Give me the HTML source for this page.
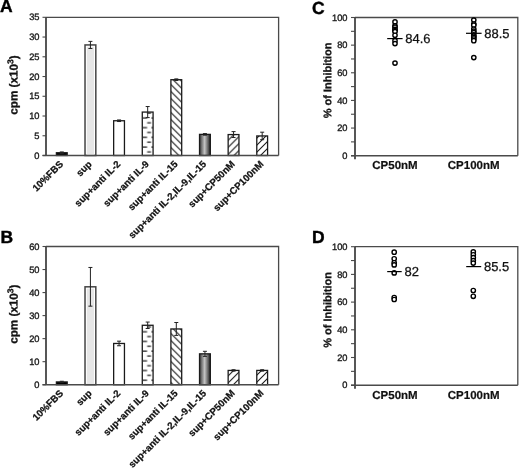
<!DOCTYPE html>
<html><head><meta charset="utf-8"><style>
html,body{margin:0;padding:0;background:#fff;width:520px;height:469px;overflow:hidden;}
svg{display:block;will-change:transform;}
</style></head><body>
<svg width="520" height="469" viewBox="0 0 520 469">
<defs>
<pattern id="dashA" patternUnits="userSpaceOnUse" width="8.7" height="9.7" x="142.7" y="125.6"><path d="M-0.3 2H4.4M4.5 6.85H8.3" stroke="#1a1a1a" stroke-width="1.2"/></pattern>
<pattern id="dashB" patternUnits="userSpaceOnUse" width="8.7" height="9.7" x="142.7" y="329.7"><path d="M-0.3 2H4.4M4.5 6.85H8.3" stroke="#1a1a1a" stroke-width="1.2"/></pattern>
<pattern id="bsA" patternUnits="userSpaceOnUse" width="7.0" height="7.0" x="0" y="4.6"><path d="M-1 -1L8.0 8.0M-8.0 -1L1 8.0M6.0 -1L15.0 8.0" stroke="#1a1a1a" stroke-width="1.1"/></pattern>
<pattern id="bsB" patternUnits="userSpaceOnUse" width="7.0" height="7.0" x="0" y="1.6"><path d="M-1 -1L8.0 8.0M-8.0 -1L1 8.0M6.0 -1L15.0 8.0" stroke="#1a1a1a" stroke-width="1.1"/></pattern>
<pattern id="fsA6" patternUnits="userSpaceOnUse" width="7.0" height="7.0" x="4.5" y="0"><path d="M-1 8.0L8.0 -1M-8.0 8.0L1 -1M6.0 8.0L15.0 -1" stroke="#1a1a1a" stroke-width="1.1"/></pattern>
<pattern id="fsA7" patternUnits="userSpaceOnUse" width="7.0" height="7.0" x="3.0" y="0"><path d="M-1 8.0L8.0 -1M-8.0 8.0L1 -1M6.0 8.0L15.0 -1" stroke="#1a1a1a" stroke-width="1.1"/></pattern>
<pattern id="fsB6" patternUnits="userSpaceOnUse" width="7.0" height="7.0" x="2.1" y="0"><path d="M-1 8.0L8.0 -1M-8.0 8.0L1 -1M6.0 8.0L15.0 -1" stroke="#1a1a1a" stroke-width="1.1"/></pattern>
<pattern id="fsB7" patternUnits="userSpaceOnUse" width="7.0" height="7.0" x="2.0" y="0"><path d="M-1 8.0L8.0 -1M-8.0 8.0L1 -1M6.0 8.0L15.0 -1" stroke="#1a1a1a" stroke-width="1.1"/></pattern>
<linearGradient id="cyl" x1="0" x2="1" y1="0" y2="0">
<stop offset="0" stop-color="#3a3a3a"/>
<stop offset="0.47" stop-color="#c4c4c4"/>
<stop offset="1" stop-color="#222"/>
</linearGradient>
</defs>
<rect width="520" height="469" fill="#fff"/>
<style>
text{font-family:"Liberation Sans",sans-serif;}
.tk{font-size:9.3px;fill:#1a1a1a;stroke:#1a1a1a;stroke-width:0.35px;}
.cat{font-size:9.7px;font-weight:bold;fill:#111;stroke:#111;stroke-width:0.25px;}
.pl{font-size:17.5px;font-weight:bold;fill:#000;stroke:#000;stroke-width:0.4px;}
.yt{font-size:11px;font-weight:bold;fill:#111;stroke:#111;stroke-width:0.3px;}
.ml{font-size:13px;fill:#111;stroke:#111;stroke-width:0.25px;}
.xl{font-size:11.5px;font-weight:bold;fill:#111;stroke:#111;stroke-width:0.2px;}
</style>
<path d="M46.0 17.3H278.6V155.5" fill="none" stroke="#4a4a4a" stroke-width="1.3"/>
<path d="M42.5 155.50H46.0" stroke="#4a4a4a" stroke-width="1.1"/>
<text class="tk" text-anchor="end" transform="translate(39.50 158.60) skewX(0.05)">0</text>
<path d="M42.5 135.76H46.0" stroke="#4a4a4a" stroke-width="1.1"/>
<text class="tk" text-anchor="end" transform="translate(39.50 138.86) skewX(0.05)">5</text>
<path d="M42.5 116.01H46.0" stroke="#4a4a4a" stroke-width="1.1"/>
<text class="tk" text-anchor="end" transform="translate(39.50 119.11) skewX(0.05)">10</text>
<path d="M42.5 96.27H46.0" stroke="#4a4a4a" stroke-width="1.1"/>
<text class="tk" text-anchor="end" transform="translate(39.50 99.37) skewX(0.05)">15</text>
<path d="M42.5 76.53H46.0" stroke="#4a4a4a" stroke-width="1.1"/>
<text class="tk" text-anchor="end" transform="translate(39.50 79.63) skewX(0.05)">20</text>
<path d="M42.5 56.79H46.0" stroke="#4a4a4a" stroke-width="1.1"/>
<text class="tk" text-anchor="end" transform="translate(39.50 59.89) skewX(0.05)">25</text>
<path d="M42.5 37.04H46.0" stroke="#4a4a4a" stroke-width="1.1"/>
<text class="tk" text-anchor="end" transform="translate(39.50 40.14) skewX(0.05)">30</text>
<path d="M42.5 17.30H46.0" stroke="#4a4a4a" stroke-width="1.1"/>
<text class="tk" text-anchor="end" transform="translate(39.50 20.40) skewX(0.05)">35</text>
<rect x="56.40" y="152.74" width="10.8" height="2.76" fill="#000" stroke="#1a1a1a" stroke-width="1.3"/>
<path d="M61.80 151.95V153.53M59.80 151.95H63.80M59.80 153.53H63.80" stroke="#222" stroke-width="1"/>
<rect x="85.02" y="44.94" width="10.8" height="110.56" fill="#fff" stroke="#444" stroke-width="1.5"/>
<rect x="86.82" y="46.74" width="7.20" height="108.76" fill="#e6e6e6"/>
<path d="M90.42 41.39V48.49M88.42 41.39H92.42M88.42 48.49H92.42" stroke="#222" stroke-width="1"/>
<rect x="113.65" y="120.75" width="10.8" height="34.75" fill="#fff" stroke="#1a1a1a" stroke-width="1.3"/>
<path d="M119.05 119.96V121.54M117.05 119.96H121.05M117.05 121.54H121.05" stroke="#222" stroke-width="1"/>
<rect x="142.28" y="112.07" width="10.8" height="43.43" fill="url(#dashA)" stroke="#1a1a1a" stroke-width="1.3"/>
<path d="M147.68 106.54V117.59M145.68 106.54H149.68M145.68 117.59H149.68" stroke="#222" stroke-width="1"/>
<rect x="170.90" y="79.69" width="10.8" height="75.81" fill="url(#bsA)" stroke="#1a1a1a" stroke-width="1.3"/>
<path d="M176.30 78.90V80.48M174.30 78.90H178.30M174.30 80.48H178.30" stroke="#222" stroke-width="1"/>
<rect x="199.53" y="134.38" width="10.8" height="21.12" fill="url(#cyl)" stroke="#1a1a1a" stroke-width="1.3"/>
<path d="M204.93 133.59V135.16M202.93 133.59H206.93M202.93 135.16H206.93" stroke="#222" stroke-width="1"/>
<rect x="228.15" y="134.57" width="10.8" height="20.93" fill="url(#fsA6)" stroke="#1a1a1a" stroke-width="1.3"/>
<path d="M233.55 131.61V137.53M231.55 131.61H235.55M231.55 137.53H235.55" stroke="#222" stroke-width="1"/>
<rect x="256.78" y="135.95" width="10.8" height="19.55" fill="url(#fsA7)" stroke="#1a1a1a" stroke-width="1.3"/>
<path d="M262.18 132.20V139.71M260.18 132.20H264.18M260.18 139.71H264.18" stroke="#222" stroke-width="1"/>
<path d="M46.0 17.3V155.5" stroke="#444" stroke-width="1.8"/>
<path d="M42.5 155.5H278.6" stroke="#4a4a4a" stroke-width="1.4"/>
<text class="cat" text-anchor="end" transform="translate(63.80 164.70) rotate(-45)">10%FBS</text>
<text class="cat" text-anchor="end" transform="translate(92.42 164.70) rotate(-45)">sup</text>
<text class="cat" text-anchor="end" transform="translate(121.05 164.70) rotate(-45)">sup+anti IL-2</text>
<text class="cat" text-anchor="end" transform="translate(149.68 164.70) rotate(-45)">sup+anti IL-9</text>
<text class="cat" text-anchor="end" transform="translate(178.30 164.70) rotate(-45)">sup+anti IL-15</text>
<text class="cat" text-anchor="end" transform="translate(206.93 164.70) rotate(-45)">sup+anti IL-2,IL-9,IL-15</text>
<text class="cat" text-anchor="end" transform="translate(235.55 164.70) rotate(-45)">sup+CP50nM</text>
<text class="cat" text-anchor="end" transform="translate(264.18 164.70) rotate(-45)">sup+CP100nM</text>
<path d="M46.0 246.5H278.6V384.7" fill="none" stroke="#4a4a4a" stroke-width="1.3"/>
<path d="M42.5 384.70H46.0" stroke="#4a4a4a" stroke-width="1.1"/>
<text class="tk" text-anchor="end" transform="translate(39.50 387.80) skewX(0.05)">0</text>
<path d="M42.5 361.67H46.0" stroke="#4a4a4a" stroke-width="1.1"/>
<text class="tk" text-anchor="end" transform="translate(39.50 364.77) skewX(0.05)">10</text>
<path d="M42.5 338.63H46.0" stroke="#4a4a4a" stroke-width="1.1"/>
<text class="tk" text-anchor="end" transform="translate(39.50 341.73) skewX(0.05)">20</text>
<path d="M42.5 315.60H46.0" stroke="#4a4a4a" stroke-width="1.1"/>
<text class="tk" text-anchor="end" transform="translate(39.50 318.70) skewX(0.05)">30</text>
<path d="M42.5 292.57H46.0" stroke="#4a4a4a" stroke-width="1.1"/>
<text class="tk" text-anchor="end" transform="translate(39.50 295.67) skewX(0.05)">40</text>
<path d="M42.5 269.53H46.0" stroke="#4a4a4a" stroke-width="1.1"/>
<text class="tk" text-anchor="end" transform="translate(39.50 272.63) skewX(0.05)">50</text>
<path d="M42.5 246.50H46.0" stroke="#4a4a4a" stroke-width="1.1"/>
<text class="tk" text-anchor="end" transform="translate(39.50 249.60) skewX(0.05)">60</text>
<rect x="56.40" y="381.94" width="10.8" height="2.76" fill="#000" stroke="#1a1a1a" stroke-width="1.3"/>
<path d="M61.80 381.25V382.63M59.80 381.25H63.80M59.80 382.63H63.80" stroke="#222" stroke-width="1"/>
<rect x="85.02" y="286.81" width="10.8" height="97.89" fill="#fff" stroke="#444" stroke-width="1.5"/>
<rect x="86.82" y="288.61" width="7.20" height="96.09" fill="#e6e6e6"/>
<path d="M90.42 267.46V306.16M88.42 267.46H92.42M88.42 306.16H92.42" stroke="#222" stroke-width="1"/>
<rect x="113.65" y="343.47" width="10.8" height="41.23" fill="#fff" stroke="#1a1a1a" stroke-width="1.3"/>
<path d="M119.05 341.17V345.77M117.05 341.17H121.05M117.05 345.77H121.05" stroke="#222" stroke-width="1"/>
<rect x="142.28" y="325.27" width="10.8" height="59.43" fill="url(#dashB)" stroke="#1a1a1a" stroke-width="1.3"/>
<path d="M147.68 322.05V328.50M145.68 322.05H149.68M145.68 328.50H149.68" stroke="#222" stroke-width="1"/>
<rect x="170.90" y="328.96" width="10.8" height="55.74" fill="url(#bsB)" stroke="#1a1a1a" stroke-width="1.3"/>
<path d="M176.30 322.51V335.41M174.30 322.51H178.30M174.30 335.41H178.30" stroke="#222" stroke-width="1"/>
<rect x="199.53" y="353.84" width="10.8" height="30.86" fill="url(#cyl)" stroke="#1a1a1a" stroke-width="1.3"/>
<path d="M204.93 351.30V356.37M202.93 351.30H206.93M202.93 356.37H206.93" stroke="#222" stroke-width="1"/>
<rect x="228.15" y="370.42" width="10.8" height="14.28" fill="url(#fsB6)" stroke="#1a1a1a" stroke-width="1.3"/>
<path d="M233.55 369.73V371.11M231.55 369.73H235.55M231.55 371.11H235.55" stroke="#222" stroke-width="1"/>
<rect x="256.78" y="370.42" width="10.8" height="14.28" fill="url(#fsB7)" stroke="#1a1a1a" stroke-width="1.3"/>
<path d="M262.18 369.73V371.11M260.18 369.73H264.18M260.18 371.11H264.18" stroke="#222" stroke-width="1"/>
<path d="M46.0 246.5V384.7" stroke="#444" stroke-width="1.8"/>
<path d="M42.5 384.7H278.6" stroke="#4a4a4a" stroke-width="1.4"/>
<text class="cat" text-anchor="end" transform="translate(63.80 393.90) rotate(-45)">10%FBS</text>
<text class="cat" text-anchor="end" transform="translate(92.42 393.90) rotate(-45)">sup</text>
<text class="cat" text-anchor="end" transform="translate(121.05 393.90) rotate(-45)">sup+anti IL-2</text>
<text class="cat" text-anchor="end" transform="translate(149.68 393.90) rotate(-45)">sup+anti IL-9</text>
<text class="cat" text-anchor="end" transform="translate(178.30 393.90) rotate(-45)">sup+anti IL-15</text>
<text class="cat" text-anchor="end" transform="translate(206.93 393.90) rotate(-45)">sup+anti IL-2,IL-9,IL-15</text>
<text class="cat" text-anchor="end" transform="translate(235.55 393.90) rotate(-45)">sup+CP50nM</text>
<text class="cat" text-anchor="end" transform="translate(264.18 393.90) rotate(-45)">sup+CP100nM</text>
<text class="pl" transform="translate(0.00 11.90) skewX(0.05)">A</text>
<text class="pl" transform="translate(0.50 243.00) skewX(0.05)">B</text>
<text class="pl" transform="translate(312.00 14.30) skewX(0.05)">C</text>
<text class="pl" transform="translate(312.00 243.20) skewX(0.05)">D</text>
<text class="yt" style="font-size:11.7px" text-anchor="middle" transform="translate(17.6 85.0) rotate(-89.9)">cpm (x10<tspan font-size="8.5" dy="-4.5">3</tspan><tspan dy="4.5">)</tspan></text>
<text class="yt" style="font-size:11.7px" text-anchor="middle" transform="translate(17.6 314.2) rotate(-89.9)">cpm (x10<tspan font-size="8.5" dy="-4.5">3</tspan><tspan dy="4.5">)</tspan></text>
<text class="yt" text-anchor="middle" transform="translate(331.3 80.5) rotate(-89.9)">% of Inhibition</text>
<text class="yt" text-anchor="middle" transform="translate(331.3 310) rotate(-89.9)">% of Inhibition</text>
<path d="M355.0 17.5H517.8V155.7" fill="none" stroke="#4a4a4a" stroke-width="1.3"/>
<path d="M351 155.70H355.0" stroke="#4a4a4a" stroke-width="1.1"/>
<text class="tk" text-anchor="end" transform="translate(347.50 158.80) skewX(0.05)">0</text>
<path d="M351 141.88H355.0" stroke="#4a4a4a" stroke-width="1.1"/>
<path d="M351 128.06H355.0" stroke="#4a4a4a" stroke-width="1.1"/>
<text class="tk" text-anchor="end" transform="translate(347.50 131.16) skewX(0.05)">20</text>
<path d="M351 114.24H355.0" stroke="#4a4a4a" stroke-width="1.1"/>
<path d="M351 100.42H355.0" stroke="#4a4a4a" stroke-width="1.1"/>
<text class="tk" text-anchor="end" transform="translate(347.50 103.52) skewX(0.05)">40</text>
<path d="M351 86.60H355.0" stroke="#4a4a4a" stroke-width="1.1"/>
<path d="M351 72.78H355.0" stroke="#4a4a4a" stroke-width="1.1"/>
<text class="tk" text-anchor="end" transform="translate(347.50 75.88) skewX(0.05)">60</text>
<path d="M351 58.96H355.0" stroke="#4a4a4a" stroke-width="1.1"/>
<path d="M351 45.14H355.0" stroke="#4a4a4a" stroke-width="1.1"/>
<text class="tk" text-anchor="end" transform="translate(347.50 48.24) skewX(0.05)">80</text>
<path d="M351 31.32H355.0" stroke="#4a4a4a" stroke-width="1.1"/>
<path d="M351 17.50H355.0" stroke="#4a4a4a" stroke-width="1.1"/>
<text class="tk" text-anchor="end" transform="translate(347.50 20.60) skewX(0.05)">100</text>
<path d="M355.0 17.5V159.2" stroke="#444" stroke-width="1.8"/>
<path d="M351 155.7H517.8" stroke="#4a4a4a" stroke-width="1.4"/>
<circle cx="395.0" cy="21.9" r="2.15" fill="#fff" stroke="#000" stroke-width="1.4"/>
<circle cx="395.0" cy="25.9" r="2.15" fill="#fff" stroke="#000" stroke-width="1.4"/>
<circle cx="395.0" cy="27.2" r="2.15" fill="#fff" stroke="#000" stroke-width="1.4"/>
<circle cx="395.0" cy="29.4" r="2.15" fill="#fff" stroke="#000" stroke-width="1.4"/>
<circle cx="395.0" cy="30.5" r="2.15" fill="#fff" stroke="#000" stroke-width="1.4"/>
<circle cx="395.0" cy="31.6" r="2.15" fill="#fff" stroke="#000" stroke-width="1.4"/>
<circle cx="395.0" cy="35.3" r="2.15" fill="#fff" stroke="#000" stroke-width="1.4"/>
<circle cx="395.0" cy="40.7" r="2.15" fill="#fff" stroke="#000" stroke-width="1.4"/>
<circle cx="395.0" cy="43.6" r="2.15" fill="#fff" stroke="#000" stroke-width="1.4"/>
<circle cx="395.0" cy="63.1" r="2.15" fill="#fff" stroke="#000" stroke-width="1.4"/>
<circle cx="473.8" cy="20.1" r="2.15" fill="#fff" stroke="#000" stroke-width="1.4"/>
<circle cx="473.8" cy="24.0" r="2.15" fill="#fff" stroke="#000" stroke-width="1.4"/>
<circle cx="473.8" cy="25.2" r="2.15" fill="#fff" stroke="#000" stroke-width="1.4"/>
<circle cx="473.8" cy="29.1" r="2.15" fill="#fff" stroke="#000" stroke-width="1.4"/>
<circle cx="473.8" cy="31.2" r="2.15" fill="#fff" stroke="#000" stroke-width="1.4"/>
<circle cx="473.8" cy="32.6" r="2.15" fill="#fff" stroke="#000" stroke-width="1.4"/>
<circle cx="473.8" cy="34.9" r="2.15" fill="#fff" stroke="#000" stroke-width="1.4"/>
<circle cx="473.8" cy="36.3" r="2.15" fill="#fff" stroke="#000" stroke-width="1.4"/>
<circle cx="473.8" cy="37.6" r="2.15" fill="#fff" stroke="#000" stroke-width="1.4"/>
<circle cx="473.8" cy="39.0" r="2.15" fill="#fff" stroke="#000" stroke-width="1.4"/>
<circle cx="473.8" cy="40.7" r="2.15" fill="#fff" stroke="#000" stroke-width="1.4"/>
<circle cx="473.8" cy="57.6" r="2.15" fill="#fff" stroke="#000" stroke-width="1.4"/>
<path d="M387.2 38.6H402.6" stroke="#000" stroke-width="1.2"/>
<text class="ml" transform="translate(405.30 43.30) skewX(0.05)">84.6</text>
<path d="M466.0 33.3H481.6" stroke="#000" stroke-width="1.2"/>
<text class="ml" transform="translate(484.30 38.00) skewX(0.05)">88.5</text>
<path d="M355.0 246.7H517.8V385.2" fill="none" stroke="#4a4a4a" stroke-width="1.3"/>
<path d="M351 385.20H355.0" stroke="#4a4a4a" stroke-width="1.1"/>
<text class="tk" text-anchor="end" transform="translate(347.50 388.30) skewX(0.05)">0</text>
<path d="M351 371.35H355.0" stroke="#4a4a4a" stroke-width="1.1"/>
<path d="M351 357.50H355.0" stroke="#4a4a4a" stroke-width="1.1"/>
<text class="tk" text-anchor="end" transform="translate(347.50 360.60) skewX(0.05)">20</text>
<path d="M351 343.65H355.0" stroke="#4a4a4a" stroke-width="1.1"/>
<path d="M351 329.80H355.0" stroke="#4a4a4a" stroke-width="1.1"/>
<text class="tk" text-anchor="end" transform="translate(347.50 332.90) skewX(0.05)">40</text>
<path d="M351 315.95H355.0" stroke="#4a4a4a" stroke-width="1.1"/>
<path d="M351 302.10H355.0" stroke="#4a4a4a" stroke-width="1.1"/>
<text class="tk" text-anchor="end" transform="translate(347.50 305.20) skewX(0.05)">60</text>
<path d="M351 288.25H355.0" stroke="#4a4a4a" stroke-width="1.1"/>
<path d="M351 274.40H355.0" stroke="#4a4a4a" stroke-width="1.1"/>
<text class="tk" text-anchor="end" transform="translate(347.50 277.50) skewX(0.05)">80</text>
<path d="M351 260.55H355.0" stroke="#4a4a4a" stroke-width="1.1"/>
<path d="M351 246.70H355.0" stroke="#4a4a4a" stroke-width="1.1"/>
<text class="tk" text-anchor="end" transform="translate(347.50 249.80) skewX(0.05)">100</text>
<path d="M355.0 246.7V388.7" stroke="#444" stroke-width="1.8"/>
<path d="M351 385.2H517.8" stroke="#4a4a4a" stroke-width="1.4"/>
<circle cx="394.2" cy="252.2" r="2.15" fill="#fff" stroke="#000" stroke-width="1.4"/>
<circle cx="394.2" cy="258.8" r="2.15" fill="#fff" stroke="#000" stroke-width="1.4"/>
<circle cx="394.2" cy="262.8" r="2.15" fill="#fff" stroke="#000" stroke-width="1.4"/>
<circle cx="394.2" cy="264.9" r="2.15" fill="#fff" stroke="#000" stroke-width="1.4"/>
<circle cx="394.2" cy="272.9" r="2.15" fill="#fff" stroke="#000" stroke-width="1.4"/>
<circle cx="394.2" cy="297.5" r="2.15" fill="#fff" stroke="#000" stroke-width="1.4"/>
<circle cx="394.2" cy="299.5" r="2.15" fill="#fff" stroke="#000" stroke-width="1.4"/>
<circle cx="473.3" cy="251.9" r="2.15" fill="#fff" stroke="#000" stroke-width="1.4"/>
<circle cx="473.3" cy="254.8" r="2.15" fill="#fff" stroke="#000" stroke-width="1.4"/>
<circle cx="473.3" cy="257.7" r="2.15" fill="#fff" stroke="#000" stroke-width="1.4"/>
<circle cx="473.3" cy="260.6" r="2.15" fill="#fff" stroke="#000" stroke-width="1.4"/>
<circle cx="473.3" cy="263.1" r="2.15" fill="#fff" stroke="#000" stroke-width="1.4"/>
<circle cx="473.3" cy="290.5" r="2.15" fill="#fff" stroke="#000" stroke-width="1.4"/>
<circle cx="473.3" cy="296.3" r="2.15" fill="#fff" stroke="#000" stroke-width="1.4"/>
<path d="M387.2 271.6H401.7" stroke="#000" stroke-width="1.2"/>
<text class="ml" transform="translate(404.40 276.30) skewX(0.05)">82</text>
<path d="M466.2 266.6H481.2" stroke="#000" stroke-width="1.2"/>
<text class="ml" transform="translate(483.90 271.30) skewX(0.05)">85.5</text>
<text class="xl" text-anchor="middle" transform="translate(395.00 169.00) skewX(0.05)">CP50nM</text>
<text class="xl" text-anchor="middle" transform="translate(473.70 169.00) skewX(0.05)">CP100nM</text>
<text class="xl" text-anchor="middle" transform="translate(395.00 398.50) skewX(0.05)">CP50nM</text>
<text class="xl" text-anchor="middle" transform="translate(473.70 398.50) skewX(0.05)">CP100nM</text>
</svg>
</body></html>
